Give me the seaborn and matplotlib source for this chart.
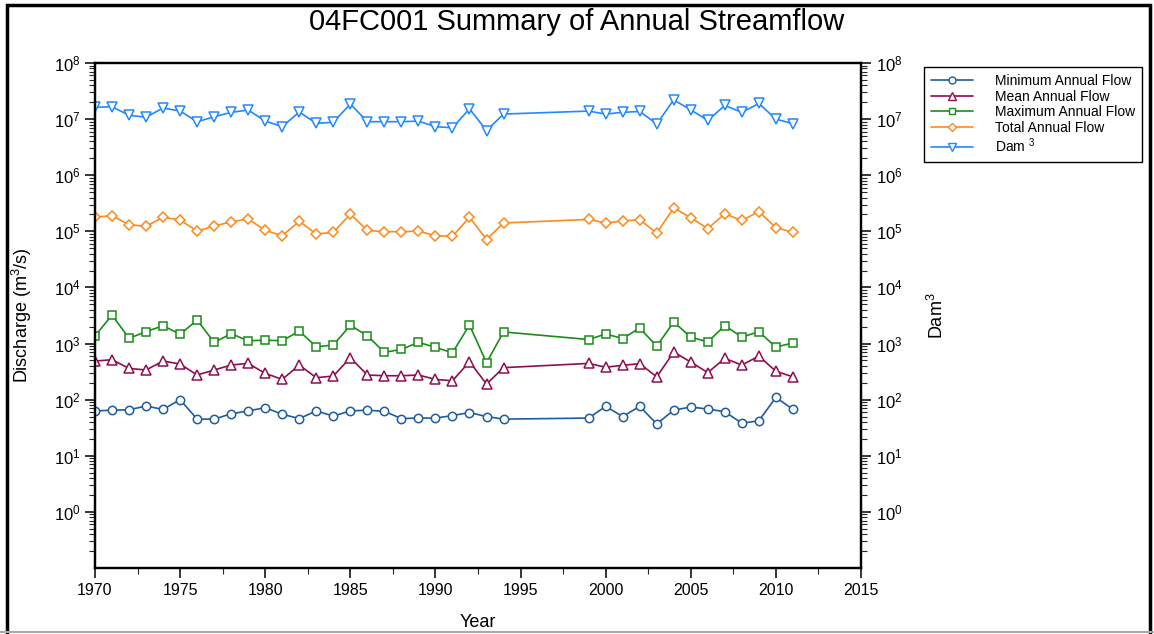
import matplotlib
matplotlib.use("Agg")
import matplotlib.pyplot as plt
from matplotlib.patches import Rectangle
from matplotlib.lines import Line2D
from matplotlib.ticker import LogLocator, MultipleLocator
import pandas as pd
import seaborn as sns

# annual data, station 04FC001
years = list(range(1970, 1995)) + list(range(1999, 2012))

min_flow = [63, 65, 66, 77, 67, 100, 45, 45, 56, 63, 72, 55, 46, 63, 51, 63, 65, 62, 46, 47,
            47, 52, 59, 50, 45, 47, 76, 50, 76, 37, 65, 74, 68, 61, 38, 42, 110, 67]
mean_flow = [488, 515, 361, 338, 488, 432, 275, 338, 414, 443, 294, 230, 414, 246, 264, 559, 275,
             267, 267, 275, 230, 217, 475, 190, 372, 443, 378, 410, 438, 255, 706, 468, 304, 545,
             414, 598, 321, 255]
max_flow = [1360, 3220, 1240, 1630, 2080, 1460, 2620, 1050, 1500, 1120, 1150, 1120, 1670, 877, 940,
            2110, 1380, 697, 787, 1050, 855, 685, 2140, 455, 1610, 1180, 1480, 1230, 1890, 900,
            2420, 1300, 1070, 2090, 1300, 1630, 862, 1030]
total_flow = [180000, 190000, 131000, 123000, 178000, 159000, 101000, 124000, 148000, 166000,
              104000, 83500, 151000, 89500, 96000, 203000, 104000, 98500, 98500, 101000, 83500,
              81500, 178000, 71500, 141000, 163000, 141000, 153000, 161000, 93600, 262000, 175000,
              112000, 205000, 156000, 225000, 116000, 96400]
dam3 = [16.2e6, 16.6e6, 11.7e6, 10.8e6, 15.8e6, 13.9e6, 9.0e6, 11.0e6, 13.2e6, 14.5e6, 9.25e6,
        7.33e6, 13.4e6, 8.4e6, 8.8e6, 18.6e6, 9.0e6, 9.0e6, 9.0e6, 9.2e6, 7.33e6, 7.0e6, 15.3e6,
        6.24e6, 12.3e6, 13.9e6, 12.3e6, 13.2e6, 13.7e6, 8.2e6, 22.0e6, 14.6e6, 9.5e6, 17.5e6,
        13.2e6, 19.0e6, 10.0e6, 8.3e6]

labels = ["Minimum Annual Flow", "Mean Annual Flow", "Maximum Annual Flow",
          "Total Annual Flow", "Dam $^3$"]
colors = ["#1f5c9e", "#8e0f4f", "#1a8c1a", "#ff8a1c", "#2288ff"]
markers = ["o", "^", "s", "D", "v"]
msizes = [6, 6.5, 6, 5, 7]

df = pd.DataFrame({"Year": years, labels[0]: min_flow, labels[1]: mean_flow,
                   labels[2]: max_flow, labels[3]: total_flow, labels[4]: dam3})

sns.set_style("ticks")
plt.rcParams["font.family"] = ["Liberation Sans", "DejaVu Sans"]
plt.rcParams["mathtext.fontset"] = "custom"
plt.rcParams["mathtext.rm"] = "Liberation Sans"
plt.rcParams["mathtext.it"] = "Liberation Sans:italic"
plt.rcParams["text.color"] = "black"
plt.rcParams["axes.labelcolor"] = "black"

fig = plt.figure(figsize=(11.54, 6.34), dpi=100)
ax = fig.add_axes([95 / 1154, 1 - 568 / 634, (861 - 95) / 1154, (568 - 63) / 634])

for lab, c, m, ms in zip(labels, colors, markers, msizes):
    sns.lineplot(data=df, x="Year", y=lab, ax=ax, color=c, marker=m, markersize=ms,
                 markerfacecolor="white", markeredgecolor=c, markeredgewidth=1.1,
                 linewidth=1.2, label=lab, legend=False)

ax.set_yscale("log")
ax.set_ylim(0.1, 1e8)
ax.set_xlim(1970, 2015)
ax.xaxis.set_major_locator(MultipleLocator(5))
ax.xaxis.set_minor_locator(MultipleLocator(2.5))
ax.yaxis.set_minor_locator(LogLocator(base=10, subs=range(2, 10), numticks=20))

ax2 = ax.twinx()
ax2.set_yscale("log")
ax2.set_ylim(0.1, 1e8)
ax2.yaxis.set_minor_locator(LogLocator(base=10, subs=range(2, 10), numticks=20))

for a in (ax, ax2):
    for s in a.spines.values():
        s.set_linewidth(1.6)
        s.set_color("black")
    a.tick_params(which="major", direction="out", length=7, width=1.1, labelsize=12, colors="black")
    a.tick_params(which="minor", direction="out", length=4, width=0.8)
    a.set_yticks([10.0 ** k for k in range(0, 9)])

ax.tick_params(axis="x", labelsize=11.5)

ax.set_xlabel("Year", fontsize=13, labelpad=12)
ax.set_ylabel("Discharge (m$^3$/s)", fontsize=13, labelpad=14)
ax2.set_ylabel("Dam$^3$", fontsize=13, labelpad=18)

fig.suptitle("04FC001 Summary of Annual Streamflow", fontsize=21, y=1 - 22 / 634, va="center")

handles = [Line2D([], [], color=c, marker=m, markersize=ms - 1, markerfacecolor="white",
                  markeredgecolor=c, linewidth=1.2) for c, m, ms in zip(colors, markers, msizes)]
fig.legend(handles, labels, loc="upper left", bbox_to_anchor=(924 / 1154, 1 - 67 / 634),
           fontsize=10, frameon=True, fancybox=False, edgecolor="black", framealpha=1,
           handlelength=3, handletextpad=1.6, labelspacing=0.12, borderpad=0.5,
           borderaxespad=0)

# outer frame of the page
fig.patches.append(Rectangle((7 / 1154, -0.05), (1150 - 7) / 1154, 1 - 5 / 634 + 0.05,
                             transform=fig.transFigure, fill=False, edgecolor="black",
                             linewidth=2.5, zorder=0))
fig.add_artist(Line2D([0, 1], [1 - 632 / 634] * 2, transform=fig.transFigure,
                      color="#aaaaaa", linewidth=1.5))

fig.savefig("out.png", dpi=100)
